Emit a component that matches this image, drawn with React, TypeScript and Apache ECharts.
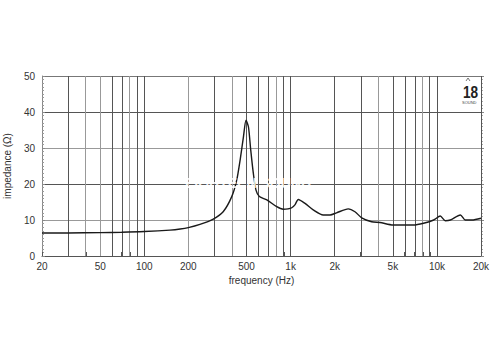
import React, { useEffect, useRef } from "react";
import * as echarts from "echarts";

// Impedance curve (frequency in Hz, impedance in ohm)
const frequencies = [20, 30, 50, 70, 100, 150, 176, 200, 240, 294, 346, 396, 428, 452, 476, 496, 515, 534, 556, 580, 612, 688, 804, 890, 960, 1018, 1070, 1128, 1254, 1427, 1670, 1860, 2060, 2476, 2752, 3060, 3580, 4080, 5020, 6920, 8100, 9500, 10540, 11400, 12340, 14460, 15600, 17340, 20000];
const impedance = [6.4, 6.4, 6.5, 6.6, 6.8, 7.2, 7.5, 7.9, 8.8, 10.2, 12.3, 16.5, 21.0, 26.7, 33.1, 37.7, 35.9, 29.4, 23.0, 18.3, 16.5, 15.6, 13.7, 13.0, 13.1, 13.4, 14.2, 15.7, 14.6, 12.8, 11.4, 11.4, 12.0, 13.1, 12.3, 10.6, 9.5, 9.3, 8.6, 8.6, 9.1, 10.0, 11.1, 9.8, 10.0, 11.4, 10.0, 10.0, 10.5];

// Axis labels / grid
const freqLabels = [20, 50, 100, 200, 500, 1000, 2000, 5000, 10000, 20000];
const gridFreqs = [20, 30, 40, 50, 60, 70, 80, 90, 100, 200, 300, 400, 500, 600, 700, 800, 900, 1000, 2000, 3000, 4000, 5000, 6000, 7000, 8000, 9000, 10000, 20000];
const lightGridFreqs = [20, 40, 50, 80, 200, 400, 800, 4000, 8000];
const yMin = 0;
const yMax = 50;
const yStep = 10;

const FONT = "'Liberation Sans', Arial, Helvetica, sans-serif";

function fmtFreq(v: number): string {
  const f = Math.round(Math.pow(10, v));
  if (f >= 1000) return f / 1000 + "k";
  return String(f);
}

export default function App() {
  const ref = useRef<HTMLDivElement>(null);

  useEffect(() => {
    if (!ref.current) return;
    const chart = echarts.init(ref.current, undefined, { renderer: "svg" });
    const lg = (f: number) => Math.log10(f);
    const curve = frequencies.map((f, i) => [lg(f), impedance[i]]);

    const option: any = {
      animation: false,
      backgroundColor: "#ffffff",
      grid: { left: 42, right: 19, top: 76, bottom: 94, containLabel: false, outerBoundsMode: "none" },
      xAxis: {
        type: "value",
        min: lg(20),
        max: lg(20000),
        name: "frequency (Hz)",
        nameLocation: "middle",
        nameGap: 17,
        nameTextStyle: { fontFamily: FONT, fontSize: 10, color: "#333" },
        axisLine: { show: true, lineStyle: { color: "#555", width: 1 } },
        axisTick: {
          show: true,
          inside: true,
          length: 4,
          lineStyle: { color: "#555" },
          customValues: gridFreqs.map(lg),
        },
        axisLabel: {
          show: true,
          margin: 5,
          fontFamily: FONT,
          fontSize: 10,
          color: "#333",
          customValues: freqLabels.map(lg),
          formatter: (v: number) => fmtFreq(v),
        },
        splitLine: { show: false },
      },
      yAxis: [
        {
          type: "value",
          min: yMin,
          max: yMax,
          interval: yStep,
          name: "impedance (Ω)",
          nameLocation: "middle",
          nameGap: 26,
          nameRotate: 90,
          nameTextStyle: { fontFamily: FONT, fontSize: 10, color: "#333" },
          axisLine: { show: true, lineStyle: { color: "#888", width: 1 } },
          axisTick: { show: true, inside: true, length: 3, lineStyle: { color: "#888" } },
          minorTick: { show: true, splitNumber: 10, length: 2, lineStyle: { color: "#999" } },
          axisLabel: { fontFamily: FONT, fontSize: 10, color: "#333", margin: 7 },
          splitLine: {
            show: true,
            lineStyle: { color: ["#555", "#999", "#555", "#999", "#555", "#777"], width: 1 },
          },
        },
        {
          type: "value",
          position: "right",
          min: yMin,
          max: yMax,
          interval: yStep,
          axisLine: { show: false },
          axisTick: { show: true, inside: false, length: 3, lineStyle: { color: "#888" } },
          minorTick: { show: true, splitNumber: 10, length: 2, lineStyle: { color: "#aaa" } },
          axisLabel: { show: false },
          splitLine: { show: false },
        },
      ],
      series: [
        {
          type: "line",
          data: [],
          z: 1,
          silent: true,
          markLine: {
            silent: true,
            symbol: ["none", "none"],
            label: { show: false },
            animation: false,
            data: gridFreqs.map((f) => ({
              xAxis: lg(f),
              lineStyle: {
                color: lightGridFreqs.indexOf(f) >= 0 ? "#999" : "#555",
                width: 1,
                type: "solid",
              },
            })),
          },
        },
        {
          type: "line",
          data: curve,
          z: 5,
          showSymbol: false,
          smooth: 0.25,
          lineStyle: { color: "#1a1a1a", width: 1.4 },
        },
      ],
      graphic: [
        {
          type: "text",
          left: 185,
          top: 176,
          z: 100,
          style: {
            text: "EIGHTEEN SOUND",
            fill: "rgba(255,255,255,0.9)",
            font: "bold 14px " + FONT,
          },
        },
        {
          type: "polyline",
          z: 100,
          shape: { points: [[466, 81], [468, 78], [470, 81]] },
          style: { stroke: "#555", lineWidth: 0.8, fill: null },
        },
        {
          type: "text",
          x: 463,
          y: 83,
          scaleX: 0.8,
          z: 100,
          style: {
            text: "18",
            fill: "#222",
            font: "bold 17px " + FONT,
          },
        },
        {
          type: "text",
          left: 462,
          top: 100,
          z: 100,
          style: { text: "SOUND", fill: "#444", font: "4px " + FONT },
        },
      ],
    };

    chart.setOption(option);
    return () => chart.dispose();
  }, []);

  return (
    <div
      ref={ref}
      style={{ position: "fixed", left: 0, top: 0, width: 500, height: 350, background: "#fff" }}
    />
  );
}
